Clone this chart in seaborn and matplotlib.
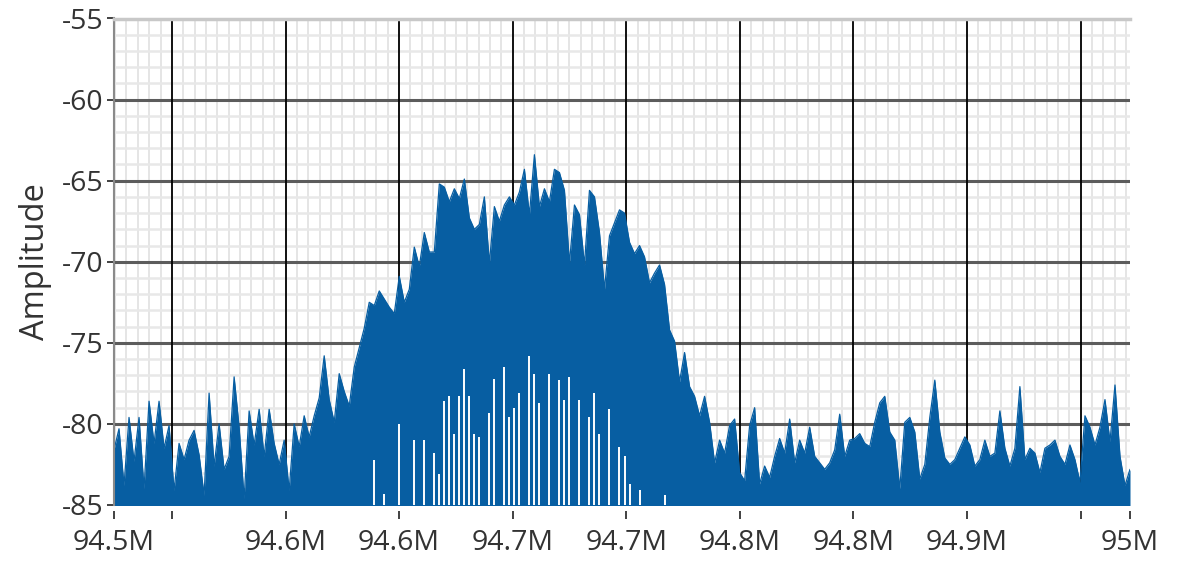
import numpy as np
import matplotlib
matplotlib.use("Agg")
import matplotlib.pyplot as plt
import seaborn as sns

# ── Data (5 px per sample) ─────────────────────────────────────────────────
F_START, F_STOP = 94.475, 94.975          # MHz, graph x range

# top of the trace at each sample
PEAK_DB = [
    -81.6, -80.3, -83.8, -79.6, -82.3, -79.6, -84.0, -78.6, -81.2, -78.6,
    -81.5, -80.1, -84.1, -81.2, -82.2, -81.0, -80.4, -81.9, -84.4, -78.1,
    -82.6, -80.0, -82.8, -82.0, -77.1, -80.2, -84.6, -79.2, -81.3, -79.1,
    -82.0, -79.1, -81.2, -82.5, -81.0, -84.1, -80.0, -81.4, -79.5, -80.8,
    -79.5, -78.4, -75.8, -78.5, -79.9, -76.9, -78.0, -78.9, -76.5, -75.3,
    -74.1, -72.5,
    -72.7, -71.8, -72.3, -72.8, -73.2, -70.9, -72.5, -71.7, -69.1, -70.3,
    -68.2, -69.4, -69.4, -65.2, -65.4, -66.3, -65.5, -66.1, -64.9, -67.3,
    -68.0, -67.7, -66.0, -70.1, -66.6, -67.5, -66.5, -66.0, -66.5, -65.7,
    -64.3, -67.1, -63.4, -66.6, -65.5, -66.3, -64.3, -64.5, -65.6, -70.1,
    -66.5, -67.1, -70.2, -65.6, -66.0, -68.2, -71.7, -68.4, -67.6, -66.8,
    -67.0,
    -68.8, -69.5, -69.0, -69.7, -71.3, -70.7, -70.2, -71.4, -74.2, -74.9,
    -77.4, -75.6, -77.7, -78.3, -79.5, -78.3, -79.9, -82.4, -81.0, -81.8,
    -80.1, -79.7, -83.0, -83.5, -80.1, -79.0, -83.7, -82.6, -83.3, -82.0,
    -80.9, -81.8, -79.7, -82.4, -81.0, -81.8, -80.2, -82.0, -82.4, -82.8,
    -82.4, -81.6, -79.4, -82.0, -81.0, -80.9, -80.6, -81.2, -81.4, -79.9,
    -78.7,
    -78.3, -80.5, -81.0, -84.0, -79.9, -79.6, -80.5, -83.4, -82.5, -79.6,
    -77.3, -80.5, -82.1, -82.5, -82.2, -81.5, -80.8, -81.3, -82.6, -82.2,
    -81.0, -82.0, -81.8, -79.2, -81.5, -82.6, -81.5, -77.7, -82.2, -81.5,
    -81.8, -83.0, -81.5, -81.3, -81.0, -82.0, -82.5, -81.3, -82.2, -83.6,
    -79.5, -80.2, -81.3, -80.2, -78.5, -81.1, -77.6, -82.0, -83.8, -82.8,
]

# top of the white dips that reach the floor (-86 = no dip visible)
DIP_DB = [
    -86, -86, -86, -86, -86, -86, -86, -86, -86, -86,
    -86, -86, -86, -86, -86, -86, -86, -86, -86, -86,
    -86, -86, -86, -86, -86, -86, -86, -86, -86, -86,
    -86, -86, -86, -86, -86, -86, -86, -86, -86, -86,
    -86, -86, -86, -86, -86, -86, -86, -86, -86, -86,
    -86, -86,
    -82.2, -86, -84.3, -86, -86, -80.0, -86, -86, -81.0, -86,
    -81.0, -86, -81.8, -83.1, -78.6, -78.3, -80.6, -78.3, -76.6, -78.3,
    -80.6, -80.8, -86, -79.3, -77.2, -86, -76.5, -79.6, -79.0, -78.1,
    -86, -75.8, -76.9, -78.7, -86, -76.9, -86, -77.3, -78.5, -77.1,
    -86, -78.5, -86, -79.6, -78.1, -80.6, -86, -79.1, -86, -81.4,
    -82.0,
    -83.7, -86, -84.1, -86, -86, -86, -86, -84.4, -86, -86,
    -86, -86, -86, -86, -86, -86, -86, -86, -86, -86,
    -86, -86, -86, -86, -86, -86, -86, -86, -86, -86,
    -86, -86, -86, -86, -86, -86, -86, -86, -86, -86,
    -86, -86, -86, -86, -86, -86, -86, -86, -86, -86,
    -86,
    -86, -86, -86, -86, -86, -86, -86, -86, -86, -86,
    -86, -86, -86, -86, -86, -86, -86, -86, -86, -86,
    -86, -86, -86, -86, -86, -86, -86, -86, -86, -86,
    -86, -86, -86, -86, -86, -86, -86, -86, -86, -86,
    -86, -86, -86, -86, -86, -86, -86, -86, -86, -86,
]

XTICKS = [94.475, 94.5035, 94.5594, 94.6153, 94.6712, 94.7271,
          94.7830, 94.8389, 94.8948, 94.9507, 94.975]
XTICK_LABELS = ["94.5M", "", "94.6M", "94.6M", "94.7M", "94.7M",
                "94.8M", "94.8M", "94.9M", "", "95M"]
YTICKS = [-85, -80, -75, -70, -65, -60, -55]
YTICK_LABELS = ["-85", "-80", "-75", "-70", "-65", "-60", "-55"]

# ── Style ──────────────────────────────────────────────────────────────────
BLUE = "#075EA2"
TEXT = "#333333"
sns.set_theme(style="white")
plt.rcParams["axes.unicode_minus"] = False
FONT = ["Open Sans", "DejaVu Sans"]

fig = plt.figure(figsize=(11.82, 5.61), dpi=100)
ax = fig.add_axes([114 / 1182, 1 - 505 / 561, 1016 / 1182, 486.5 / 561])

freq = np.linspace(F_START, F_STOP, len(PEAK_DB))
peaks = np.array(PEAK_DB)
dips = np.array(DIP_DB)

# grid: light minor, dark major
maj_step = XTICKS[2] - XTICKS[1]
minor_x = XTICKS[1] + np.arange(-6, 90) * maj_step / 10
minor_x = minor_x[(minor_x > F_START + 1e-4) & (minor_x < F_STOP)]
for xv in minor_x:
    ax.axvline(xv, color="#e3e3e3", lw=1.3, zorder=0.5)
for yv in range(-84, -55):
    ax.axhline(yv, color="#e8e8e8", lw=1.8, zorder=0.5)
for yv in YTICKS[1:-1]:
    ax.axhline(yv, color="#5c5c5c", lw=2.2, zorder=1)
for xv in XTICKS[1:-1]:
    ax.axvline(xv, color="black", lw=1.3, zorder=1)

# spectrum trace
ax.fill_between(freq, -86, peaks, color=BLUE, lw=0, zorder=2)
sns.lineplot(x=freq, y=peaks, color=BLUE, lw=0.9, ax=ax, zorder=2.1)
has_dip = dips > -85.5
ax.vlines(freq[has_dip], -86, dips[has_dip], color="white", lw=1.4, zorder=2.5)

ax.set_xlim(F_START, F_STOP)
ax.set_ylim(-85, -55)

# axes frame
ax.spines["top"].set_color("#c8c8c8")
ax.spines["top"].set_linewidth(2.5)
ax.spines["left"].set_color("#8a8a8a")
ax.spines["left"].set_linewidth(1.5)
ax.spines["right"].set_visible(False)
ax.spines["bottom"].set_visible(False)
ax.spines["bottom"].set_position(("outward", 4.5))

ax.set_xticks(XTICKS)
ax.set_xticklabels(XTICK_LABELS, fontsize=20.5, color=TEXT, family=FONT)
ax.set_yticks(YTICKS)
ax.set_yticklabels(YTICK_LABELS, fontsize=20.5, color=TEXT, family=FONT)
ax.tick_params(axis="x", direction="out", length=6, width=1.3, color="#333333",
               pad=7, bottom=True)
ax.tick_params(axis="y", direction="out", length=5, width=1.3, color="#333333",
               pad=2.5, left=True)

ax.set_xlabel("")
ax.set_ylabel("Amplitude", fontsize=23.5, color=TEXT, family=FONT)
ax.yaxis.set_label_coords(-0.061, 0.5)

plt.savefig("out.png", dpi=100)
